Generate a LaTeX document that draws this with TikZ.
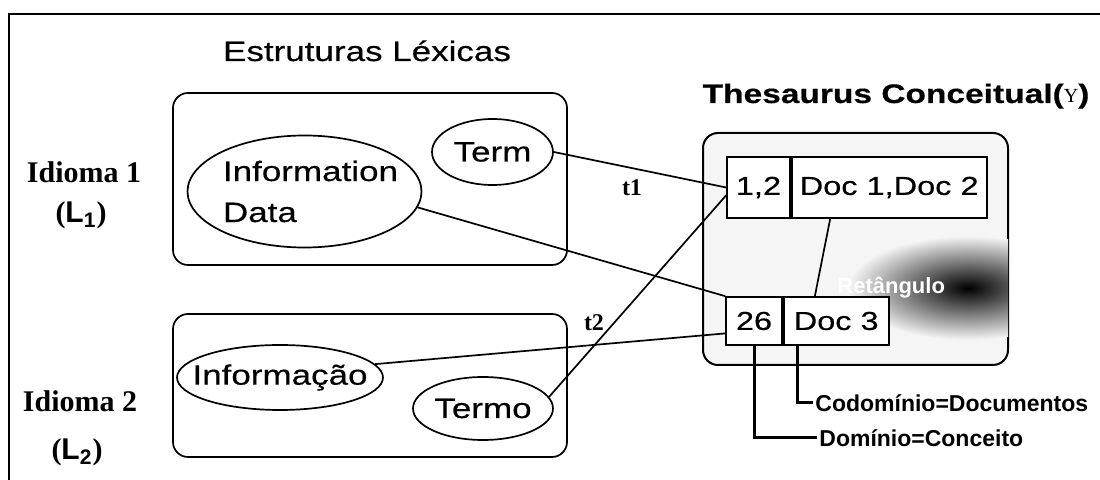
\documentclass[tikz,border=0pt]{standalone}
\usepackage{fontspec}
\setmainfont{Liberation Serif}
\newfontfamily\widesans[FakeStretch=1.25,FakeBold=0.4]{Liberation Sans}
\newfontfamily\plainsans{Liberation Sans}
\usetikzlibrary{shapes.geometric,calc}

\begin{document}
\begin{tikzpicture}[x=0.5pt,y=-0.5pt,
  lexfont/.style={font=\widesans\fontsize{14}{20.5}\selectfont},
  idfont/.style={font=\bfseries\fontsize{15}{15}\selectfont},
  oval/.style={draw,ellipse,inner sep=0pt,line width=0.85pt},
  lexbox/.style={draw,line width=0.85pt,rounded corners=7.5pt},
  cell/.style={draw,fill=white,line width=0.85pt,inner sep=0pt,
    font=\widesans\fontsize{13}{15}\selectfont},
  link/.style={line width=0.85pt},
  callout/.style={line width=1.5pt},
  callfont/.style={font=\plainsans\bfseries\fontsize{11.5}{12}\selectfont,inner sep=1pt}]
\useasboundingbox (0,0) rectangle (1100,480);
% The frame
\draw[line width=0.8pt] (9,480) -- (9,14) -- (1100,14);

% Lexical structures
\node[lexfont,anchor=base] (lextitle) at (367,61) {Estruturas Léxicas};
\draw[lexbox] (173,93) rectangle (567,265);
\draw[lexbox] (173,314) rectangle (567,457);
\node[oval,minimum width=117pt,minimum height=56pt,
  label={[lexfont,align=left,xshift=3pt]center:Information\\Data}] (info) at (304.5,191.5) {};
\node[oval,minimum width=60.5pt,minimum height=33pt,
  label={[lexfont]center:Term}] (term) at (492.5,152) {};
\node[oval,minimum width=103pt,minimum height=32.5pt,
  label={[lexfont]center:Informação}] (infopt) at (280,377.5) {};
\node[oval,minimum width=70pt,minimum height=31.5pt,
  label={[lexfont]center:Termo}] (termo) at (483,408.5) {};

% Languages
\node[idfont,anchor=base] (idone) at (84,183) {Idioma 1};
\node[idfont,anchor=base] (lone) at (81,223) {({\plainsans L\textsubscript{1}})};
\node[idfont,anchor=base] (idtwo) at (80,412) {Idioma 2};
\node[idfont,anchor=base] (ltwo) at (77,460) {({\plainsans L\textsubscript{2}})};

% The thesaurus
\node[font=\widesans\bfseries\fontsize{13.4}{15}\selectfont,anchor=base] (thtitle) at (896,103)
  {Thesaurus Conceitual({\rmfamily\mdseries\fontsize{10}{10}\selectfont Y})};
\draw[line width=1pt,rounded corners=7.5pt,fill=gray!8] (703,133) rectangle (1008,365);
\begin{scope}
  \clip[rounded corners=7.5pt] (703,133) rectangle (1008,365);
  \shade[inner color=black,outer color=gray!8] (968,288) ellipse [x radius=60pt,y radius=26pt];
\end{scope}
\node[font=\plainsans\bfseries\fontsize{11}{11}\selectfont,text=white,anchor=base east] (ret) at (952,294) {Retângulo};
\node[cell,minimum width=31.5pt,minimum height=30.5pt] (c12) at (758.5,187.5) {1,2};
\node[cell,minimum width=97.5pt,minimum height=30.5pt,anchor=west] (doc12) at (c12.east) {Doc 1,Doc 2};
\node[cell,minimum width=28pt,minimum height=24pt] (c26) at (754,321) {26};
\node[cell,minimum width=52.5pt,minimum height=24pt,anchor=west] (doc3) at (c26.east) {Doc 3};

% Links between terms and concepts
\draw[link] (term.east) -- (c12.west);
\draw[link] (info.-8) -- (c26.north west);
\draw[link] (infopt.8) -- ($(c26.west)!0.5!(c26.south west)$);
\draw[link] (termo.10) -- ($(c12.west)!0.25!(c12.south west)$);
\draw[link] ($(doc12.south west)!0.2!(doc12.south east)$) -- ($(doc3.north west)!0.3!(doc3.north east)$);
\node[font=\bfseries\fontsize{12}{12}\selectfont] (tone) at (632,188) {t1};
\node[font=\bfseries\fontsize{12}{12}\selectfont] (ttwo) at (594,323) {t2};

% Domain and codomain
\node[callfont,anchor=west] (codom) at (813,403) {Codomínio=Documentos};
\node[callfont,anchor=west] (dom) at (817,438) {Domínio=Conceito};
\draw[callout] ($(doc3.south west)+(15,0)$) |- (codom.west);
\draw[callout] (c26.south) |- (dom.west);
\end{tikzpicture}
\end{document}
